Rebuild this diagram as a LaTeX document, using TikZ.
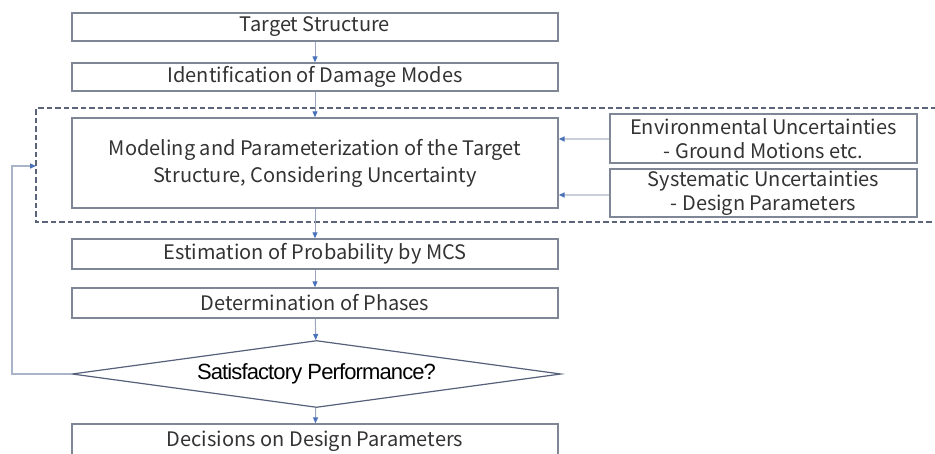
\documentclass[tikz,border=0pt]{standalone}
\usepackage{fontspec}
\setmainfont{Noto Sans CJK JP}
\newfontfamily\qfont[LetterSpace=-4]{Liberation Sans}
\usetikzlibrary{arrows.meta,shapes.geometric}
\definecolor{boxline}{HTML}{7F8797}
\definecolor{dashc}{HTML}{5B6478}
\definecolor{shaft}{HTML}{9AA6BF}
\definecolor{lightshaft}{HTML}{C9CED8}
\definecolor{tipc}{HTML}{4A72B8}
\definecolor{loopc}{HTML}{AAB4C8}
\definecolor{diamc}{HTML}{56607A}
\definecolor{txt}{HTML}{333333}
\tikzset{
  procbox/.style={draw=boxline, line width=1.4pt, fill=white, inner sep=0pt,
    minimum width=486pt, minimum height=28pt, text=txt, align=center,
    font=\fontsize{20}{23.5}\selectfont},
  sidebox/.style={procbox, minimum width=307pt},
  decision/.style={draw=diamc, line width=1.2pt, shape=diamond, aspect=7.3,
    inner sep=0pt, minimum width=489pt, minimum height=67pt, text=black,
    font=\qfont\fontsize{22}{24}\selectfont},
  flow/.style={draw=shaft, line width=1pt, -{Triangle[length=6pt,width=5pt,color=tipc]}},
  sideflow/.style={flow, draw=lightshaft, line width=1.6pt},
  loopflow/.style={flow, draw=loopc, line width=1.4pt},
  groupframe/.style={draw=dashc, line width=1.3pt, dash pattern=on 5.5pt off 3pt}
}
\begin{document}
\begin{tikzpicture}[x=1pt,y=-1pt]
\useasboundingbox (0,0) rectangle (935,453);

% uncertainty group frame (open to the right edge)
\draw[groupframe] (936,108) -- (36,108) -- (36,222) -- (936,222);

% main process chain
\node[procbox] (target) at (315,27) {Target Structure};
\node[procbox] (modes) at (315,77) {Identification of Damage Modes};
\node[procbox, minimum height=90pt] (model) at (315,163)
  {\raisebox{-5pt}{\parbox{480pt}{\centering\fontsize{20}{27}\selectfont
   Modeling and Parameterization of the Target\\Structure, Considering Uncertainty}}};
\node[sidebox, minimum height=49pt] (env) at (763.5,138.5)
  {Environmental Uncertainties\\- Ground Motions etc.};
\node[sidebox, minimum height=48pt] (sys) at (763.5,193)
  {Systematic Uncertainties\\- Design Parameters};
\node[procbox, minimum height=30pt] (mcs) at (315,254) {Estimation of Probability by MCS};
\node[procbox, minimum height=30pt] (phase) at (315,303) {Determination of Phases};
\node[decision] (check) at (316.5,374) {Satisfactory Performance?};
\node[procbox, minimum height=34pt] (decide) at (315,441) {Decisions on Design Parameters};

% connectors
\draw[flow] (target) -- (modes);
\draw[flow] (modes) -- (model);
\draw[flow] (model) -- (mcs);
\draw[flow] (mcs) -- (phase);
\draw[flow] (phase) -- (check);
\draw[flow] (check) -- (decide);
\draw[sideflow] (env.west |- 0,139) -- (model.east |- 0,139);
\draw[sideflow] (sys.west |- 0,195) -- (model.east |- 0,195);

% feedback loop back into the modelling stage
\coordinate (loopin) at (36,166);
\draw[loopflow] (check.west) -- (12,374) |- (loopin);
\end{tikzpicture}
\end{document}
